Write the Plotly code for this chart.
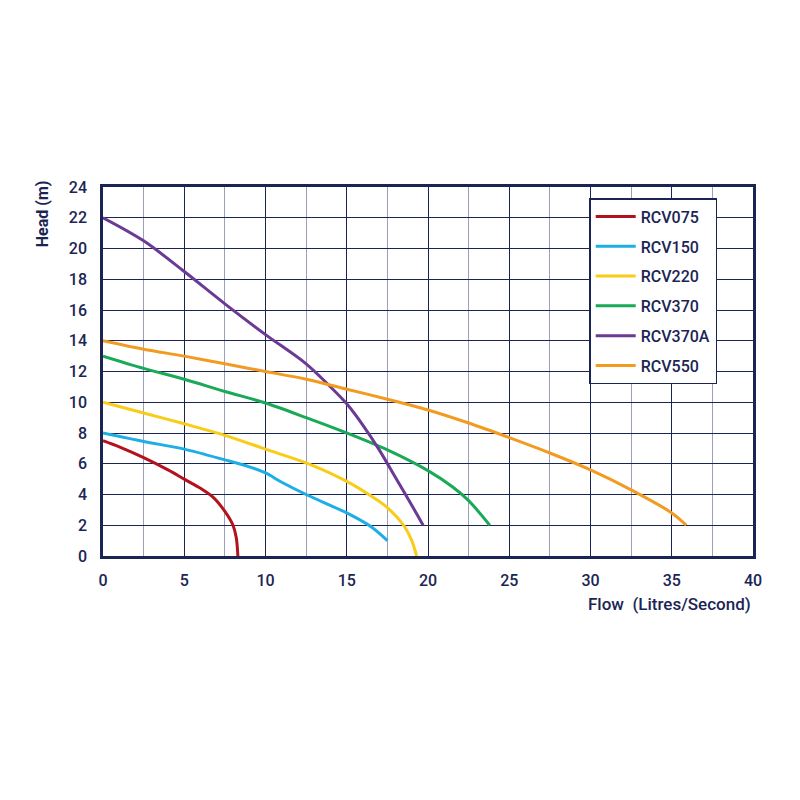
import plotly.graph_objects as go

# pump curves: flow (L/s) vs head (m)
rcv075_flow = [0, 1, 2.5, 4, 5, 6, 6.8, 7.5, 8, 8.2, 8.3]
rcv075_head = [7.5, 7.1, 6.4, 5.6, 5.0, 4.4, 3.8, 2.9, 2.0, 1.2, 0]

rcv150_flow = [0, 2.5, 5, 7.5, 9, 10, 11, 12.5, 15, 16.5, 17.5]
rcv150_head = [8, 7.45, 6.95, 6.25, 5.8, 5.4, 4.8, 4.0, 2.8, 1.9, 1.0]

rcv220_flow = [0, 2.5, 5, 7.5, 10, 12.5, 15, 16.5, 17.5, 18.5, 19, 19.3]
rcv220_head = [10, 9.3, 8.6, 7.85, 6.95, 6.05, 4.85, 3.9, 3.15, 2.0, 1.0, 0]

rcv370_flow = [0, 2.5, 5, 7.5, 10, 12.5, 15, 17.5, 20, 21.5, 22.5, 23.8]
rcv370_head = [13, 12.2, 11.5, 10.7, 9.95, 9.0, 8.0, 6.9, 5.55, 4.5, 3.6, 2.0]

rcv370a_flow = [0, 2.5, 5, 7.5, 10, 12.5, 14, 15, 16, 17, 18, 19, 19.7]
rcv370a_head = [22, 20.5, 18.5, 16.4, 14.4, 12.5, 11.0, 9.9, 8.5, 6.9, 5.1, 3.3, 2.0]

rcv550_flow = [0, 2.5, 5, 7.5, 10, 12.5, 15, 17.5, 20, 22.5, 25, 27.5, 30, 32.5, 35, 35.9]
rcv550_head = [14, 13.45, 13.0, 12.5, 12.0, 11.5, 10.85, 10.2, 9.5, 8.65, 7.7, 6.7, 5.6, 4.3, 2.8, 2.0]

navy = "#1b2554"
font = "Roboto"

series = [
    ("RCV075", rcv075_flow, rcv075_head, "#b3121d"),
    ("RCV150", rcv150_flow, rcv150_head, "#1eaee6"),
    ("RCV220", rcv220_flow, rcv220_head, "#f8cc17"),
    ("RCV370", rcv370_flow, rcv370_head, "#1aa957"),
    ("RCV370A", rcv370a_flow, rcv370a_head, "#6a3a95"),
    ("RCV550", rcv550_flow, rcv550_head, "#f29b20"),
]

fig = go.Figure()
for name, x, y, col in series:
    fig.add_trace(go.Scatter(x=x, y=y, name=name, mode="lines", legendgroup=name,
                             line=dict(color=col, width=3, shape="spline", smoothing=0.9)))

fig.update_layout(
    width=800, height=800,
    margin=dict(l=95, r=55, t=179, b=252),
    plot_bgcolor="white", paper_bgcolor="white",
    font=dict(family=font, color=navy, size=15),
    legend=dict(x=0.748, y=0.97, xanchor="left", yanchor="top",
                bordercolor=navy, borderwidth=1.5, bgcolor="white",
                font=dict(size=16, family=font, color=navy, weight=500),
                tracegroupgap=6, itemwidth=40),
    showlegend=True,
)
fig.update_xaxes(range=[0, 40], dtick=5, tick0=0, showline=True, linecolor=navy, linewidth=2.5,
                 mirror=True, gridcolor=navy, gridwidth=0.8, zeroline=False, ticks="",
                 ticklabelstandoff=8,
                 minor=dict(dtick=2.5, showgrid=True, gridcolor="#9aa0bb", gridwidth=0.8),
                 tickfont=dict(size=16, family=font, color=navy, weight=500))
fig.update_yaxes(range=[0, 24], dtick=2, tick0=0, showline=True, linecolor=navy, linewidth=2.5,
                 mirror=True, gridcolor=navy, gridwidth=0.8, zeroline=False, ticks="",
                 ticklabelstandoff=10,
                 tickfont=dict(size=16, family=font, color=navy, weight=500))

fig.add_annotation(text="<b>Head (m)</b>", xref="paper", yref="paper", x=-0.094, y=1.025,
                   xanchor="center", yanchor="top", textangle=-90, showarrow=False,
                   font=dict(size=16, family=font, color=navy))
fig.add_annotation(text="Flow  (Litres/Second)", xref="paper", yref="paper", x=1.0, y=-0.13,
                   xanchor="right", yanchor="middle", showarrow=False,
                   font=dict(size=17, family=font, color=navy, weight=500))

fig.write_html("out.html")
